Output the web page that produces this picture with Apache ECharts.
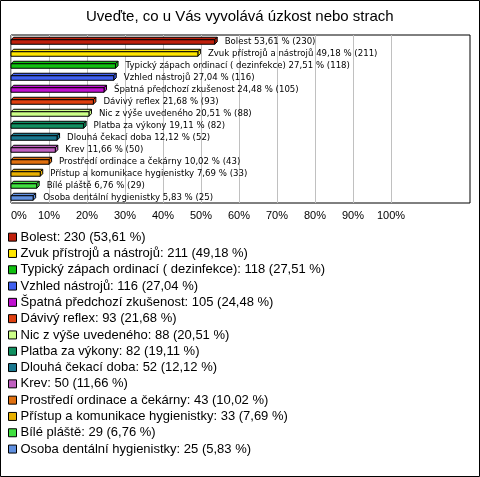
<!DOCTYPE html>
<html>
<head>
<meta charset="utf-8">
<script src="https://cdn.jsdelivr.net/npm/echarts@6/dist/echarts.min.js"></script>
<style>
  html, body { margin: 0; padding: 0; background: #fff; }
  #chart { width: 480px; height: 477px; }
</style>
</head>
<body>
<div id="chart"></div>
<script>
var categories = ['Bolest', 'Zvuk přístrojů a nástrojů', 'Typický zápach ordinací ( dezinfekce)',
    'Vzhled nástrojů', 'Špatná předchozí zkušenost', 'Dávivý reflex', 'Nic z výše uvedeného',
    'Platba za výkony', 'Dlouhá čekací doba', 'Krev', 'Prostředí ordinace a čekárny',
    'Přístup a komunikace hygienistky', 'Bílé pláště', 'Osoba dentální hygienistky'];
var counts = [230, 211, 118, 116, 105, 93, 88, 82, 52, 50, 43, 33, 29, 25];
var percents = [53.61, 49.18, 27.51, 27.04, 24.48, 21.68, 20.51, 19.11, 12.12, 11.66, 10.02, 7.69, 6.76, 5.83];
var colors = ['#c0200c', '#ffe600', '#10c010', '#4060f0', '#c010d0', '#e04010', '#ccff88',
    '#109060', '#1a7890', '#c060c0', '#e07010', '#e8b000', '#40e040', '#6090e0'];
var xTicks = [0, 10, 20, 30, 40, 50, 60, 70, 80, 90, 100];

var FONT = '"Liberation Sans", Arial, sans-serif';

function fmt(v) {
    return v.toFixed(2).replace('.', ',');
}

// 3D-ish bar: front face, top face, right side + label
function renderBar(params, api) {
    var idx = params.seriesIndex;
    var p0 = api.coord([0, api.value(1)]);
    var p1 = api.coord([api.value(0), api.value(1)]);
    var d = 2.5;
    var h = 4.5;
    var x0 = p0[0], x1 = p1[0];
    var yTop = p0[1] - h / 2 + 1;
    var yBot = yTop + h;
    var c = api.visual('color');
    return {
        type: 'group',
        children: [
            {
                type: 'polygon',
                shape: { points: [[x0, yTop], [x0 + d, yTop - d], [x1 + d, yTop - d], [x1, yTop]] },
                style: { fill: c, stroke: '#000', lineWidth: 1 }
            },
            {
                type: 'polygon',
                shape: { points: [[x1, yTop], [x1 + d, yTop - d], [x1 + d, yBot - d], [x1, yBot]] },
                style: { fill: c, stroke: '#000', lineWidth: 1 }
            },
            {
                type: 'rect',
                shape: { x: x0, y: yTop, width: x1 - x0, height: h },
                style: { fill: c, stroke: '#000', lineWidth: 1 }
            },
            {
                type: 'text',
                style: {
                    x: x1 + 10, y: p0[1] + 0.5,
                    text: categories[idx] + ' ' + fmt(percents[idx]) + ' % (' + counts[idx] + ')',
                    fill: '#000',
                    font: '8.6px "DejaVu Sans", sans-serif',
                    verticalAlign: 'middle',
                    align: 'left'
                }
            }
        ]
    };
}

var series = categories.map(function (name, i) {
    return {
        name: name,
        type: 'custom',
        xAxisIndex: 0,
        yAxisIndex: 0,
        clip: false,
        itemStyle: { color: colors[i] },
        renderItem: renderBar,
        encode: { x: 0, y: 1 },
        data: [[percents[i], name]]
    };
});

var chart = echarts.init(document.getElementById('chart'), null, { renderer: 'canvas' });
chart.setOption({
    animation: false,
    backgroundColor: '#fff',
    textStyle: { fontFamily: FONT },
    title: {
        text: 'Uveďte, co u Vás vyvolává úzkost nebo strach',
        left: 86,
        top: 9,
        padding: 0,
        textStyle: { fontSize: 15, fontWeight: 'normal', color: '#000', fontFamily: FONT }
    },
    graphic: [{
        type: 'rect',
        shape: { x: 0.5, y: 0.5, width: 479, height: 476 },
        style: { fill: 'none', stroke: '#000', lineWidth: 1 },
        silent: true
    }],
    grid: [
        { left: 11, top: 35, width: 380, height: 168 },
        { left: 11, top: 35, width: 459, height: 168, show: true, borderColor: '#000', borderWidth: 1, backgroundColor: 'transparent' }
    ],
    xAxis: [
        {
            gridIndex: 0,
            type: 'value',
            min: xTicks[0],
            max: xTicks[xTicks.length - 1],
            interval: 10,
            axisLine: { show: false },
            axisTick: { show: false },
            splitLine: { show: true, lineStyle: { color: '#c0c0c0', width: 1 } },
            axisLabel: {
                formatter: '{value}%',
                color: '#000',
                fontSize: 11,
                margin: 7,
                fontFamily: FONT,
                alignMinLabel: 'left'
            }
        },
        { gridIndex: 1, type: 'value', show: false, min: 0, max: 1 }
    ],
    yAxis: [
        {
            gridIndex: 0,
            type: 'category',
            data: categories,
            inverse: true,
            axisLine: { show: false },
            axisTick: { show: false },
            axisLabel: { show: false },
            splitLine: { show: false }
        },
        { gridIndex: 1, type: 'value', show: false, min: 0, max: 1 }
    ],
    legend: {
        orient: 'vertical',
        left: 8,
        top: 229,
        padding: 0,
        itemGap: 0,
        itemWidth: 8,
        itemHeight: 8,
        icon: 'rect',
        selectedMode: false,
        itemStyle: { borderColor: '#000', borderWidth: 1 },
        textStyle: { fontSize: 13, color: '#000', lineHeight: 16.3, fontFamily: FONT, padding: [0, 0, 0, -1] },
        data: categories,
        formatter: function (name) {
            var i = categories.indexOf(name);
            return name + ': ' + counts[i] + ' (' + fmt(percents[i]) + ' %)';
        }
    },
    series: series
});
</script>
</body>
</html>
